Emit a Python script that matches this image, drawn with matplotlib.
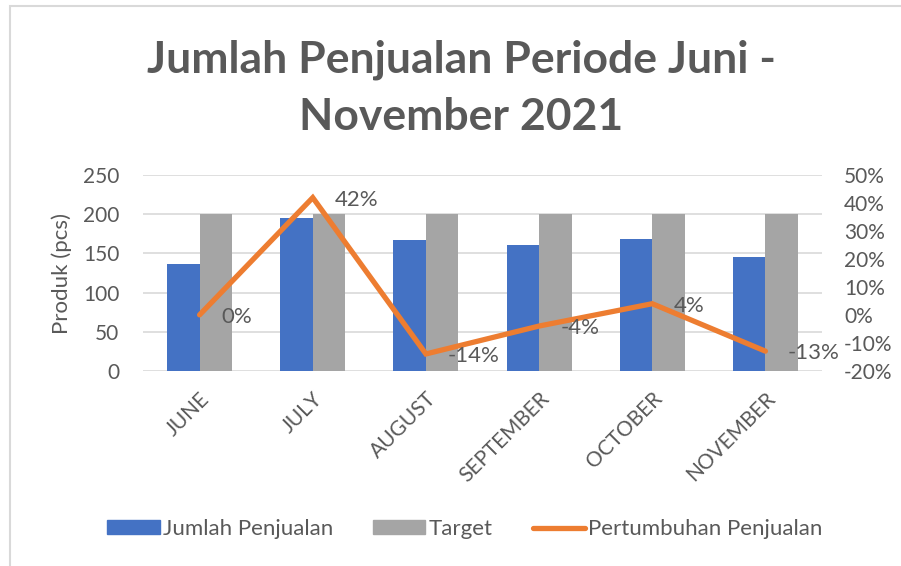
import matplotlib
matplotlib.use("Agg")
import matplotlib.pyplot as plt
from matplotlib.patches import Rectangle
from matplotlib.lines import Line2D
from matplotlib.ticker import FuncFormatter, MultipleLocator

categories = ["JUNE", "JULY", "AUGUST", "SEPTEMBER", "OCTOBER", "NOVEMBER"]
penjualan = [137, 195, 167, 161, 168, 146]
target = [200, 200, 200, 200, 200, 200]
pertumbuhan = [0, 42, -14, -4, 4, -13]
growth_labels = ["0%", "42%", "-14%", "-4%", "4%", "-13%"]

plt.rcParams['font.family'] = ['Lato', 'DejaVu Sans']
TXT = "#595959"
BLUE = "#4472C4"
GRAY = "#A5A5A5"
ORANGE = "#ED7D31"
GRID = "#D9D9D9"
FS = 15

W, H = 901, 566
fig = plt.figure(figsize=(W / 100, H / 100), dpi=100)

# chart border
fig.add_artist(Rectangle((10 / W, -0.1), 1.2, (H - 6) / H + 0.1, transform=fig.transFigure,
                         fill=False, edgecolor=GRID, lw=1.5))

left, right = 143 / W, 822 / W
bottom, top = 1 - 370.7 / H, 1 - 175.3 / H
ax = fig.add_axes([left, bottom, right - left, top - bottom])
ax2 = ax.twinx()

x = list(range(len(categories)))
bw = 0.287
ax.bar([i - bw / 2 for i in x], penjualan, width=bw, color=BLUE, zorder=2)
ax.bar([i + bw / 2 for i in x], target, width=bw, color=GRAY, zorder=2)
ax.set_xlim(-0.5, len(categories) - 0.5)
ax.set_ylim(0, 250)
ax.yaxis.set_major_locator(MultipleLocator(50))
ax.grid(axis='y', color=GRID, lw=1.2, zorder=0)
ax.set_axisbelow(True)
for s in ax.spines.values():
    s.set_visible(False)
for s in ax2.spines.values():
    s.set_visible(False)
ax.tick_params(axis='both', length=0, labelsize=FS, colors=TXT)
ax.tick_params(axis='y', pad=17)
ax.set_xticks(x)
ax.set_xticklabels(categories, rotation=45, ha='right', va='top', rotation_mode='anchor')
ax.tick_params(axis='x', pad=13)
ax.set_ylabel("Produk (pcs)", fontsize=FS + 1, color=TXT, labelpad=8)

ax2.plot(x, pertumbuhan, color=ORANGE, lw=3.8, solid_joinstyle='miter', solid_capstyle='round', zorder=3)
ax2.set_ylim(-20, 50)
ax2.yaxis.set_major_locator(MultipleLocator(10))
ax2.yaxis.set_major_formatter(FuncFormatter(lambda v, p: f"{v:.0f}%"))
ax2.tick_params(axis='y', length=0, labelsize=FS, colors=TXT, pad=16)
for i, (v, lab) in enumerate(zip(pertumbuhan, growth_labels)):
    ax2.annotate(lab, (i, v), xytext=(22, -2), textcoords='offset pixels',
                 ha='left', va='center', fontsize=16, color=TXT)

fig.text(461 / W, 1 - 60 / H, "Jumlah Penjualan Periode Juni -", ha='center', va='center',
         fontsize=32, fontweight='bold', color=TXT)
fig.text(461 / W, 1 - 117 / H, "November 2021", ha='center', va='center',
         fontsize=32, fontweight='bold', color=TXT)

handles = [Rectangle((0, 0), 1, 1, color=BLUE), Rectangle((0, 0), 1, 1, color=GRAY),
           Line2D([0], [0], color=ORANGE, lw=3.8, solid_capstyle='round')]
fig.legend(handles, ["Jumlah Penjualan", "Target", "Pertumbuhan Penjualan"],
           loc='center', bbox_to_anchor=(465 / W, 1 - 529 / H), ncol=3, frameon=False,
           fontsize=16, labelcolor=TXT, handlelength=2.35, handleheight=0.6,
           handletextpad=0.15, columnspacing=1.8)

fig.savefig("out.png", dpi=100)
